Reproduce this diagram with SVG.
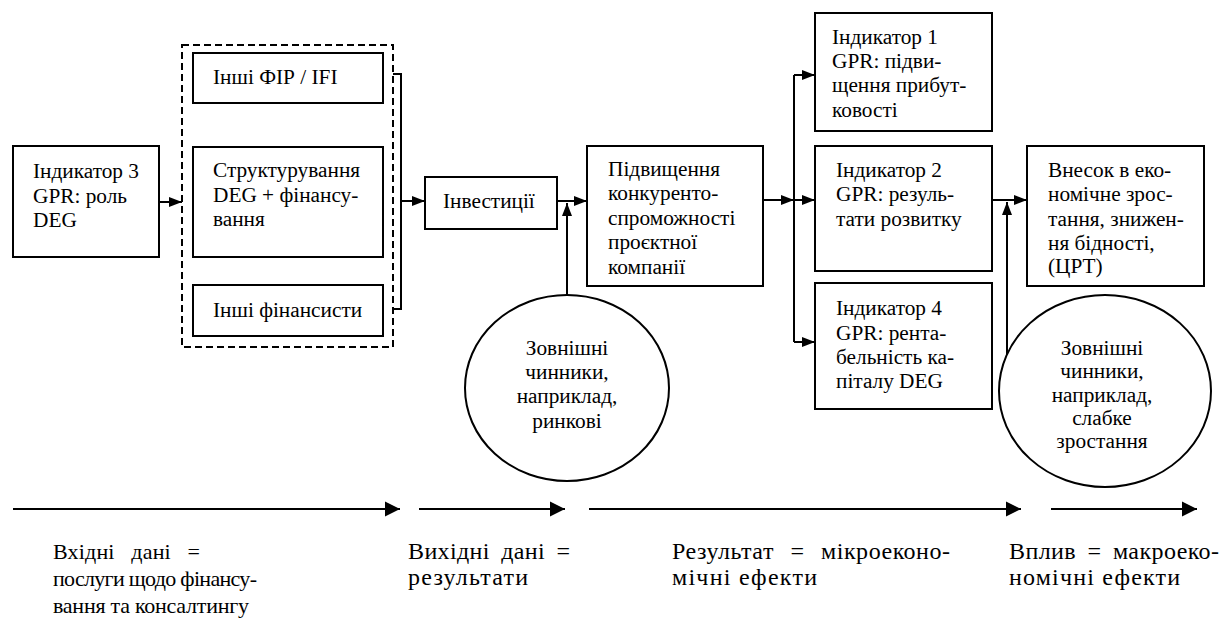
<svg xmlns="http://www.w3.org/2000/svg" width="1231" height="620" viewBox="0 0 1231 620">
<style>
.box{fill:#fff;stroke:#000;stroke-width:2}
.dash{fill:none;stroke:#000;stroke-width:2;stroke-dasharray:7 4}
.ln{fill:none;stroke:#000;stroke-width:2}
text{font-family:'Liberation Serif','Times New Roman','DejaVu Serif',serif;fill:#000}
.t{font-size:21.3px}
.c{text-anchor:middle}
.b{font-size:22px}
.bl{font-size:24px}
</style>
<defs>
<marker id="ah" markerUnits="userSpaceOnUse" markerWidth="14" markerHeight="11" refX="13" refY="5.5" orient="auto">
<path d="M0,0.5 L13,5.5 L0,10.5 z" fill="#000"/>
</marker>
<marker id="ahb" markerUnits="userSpaceOnUse" markerWidth="16" markerHeight="16" refX="15" refY="8" orient="auto">
<path d="M0,0.5 L15,8 L0,15.5 z" fill="#000"/>
</marker>
</defs>
<rect width="1231" height="620" fill="#fff"/>

<g id="connectors">
<path class="ln" d="M159,202 H182" marker-end="url(#ah)"/>
<path class="ln" d="M393,74 H401 V309 H393"/>
<path class="ln" d="M401,201 H425" marker-end="url(#ah)"/>
<path class="ln" d="M557,201 H587" marker-end="url(#ah)"/>
<path class="ln" d="M567,295 V203" marker-end="url(#ah)"/>
<path class="ln" d="M763,200 H794" marker-end="url(#ah)"/>
<path class="ln" d="M794,75 V342"/>
<path class="ln" d="M794,75 H815" marker-end="url(#ah)"/>
<path class="ln" d="M794,200 H815" marker-end="url(#ah)"/>
<path class="ln" d="M794,342 H815" marker-end="url(#ah)"/>
<path class="ln" d="M992,200 H1027" marker-end="url(#ah)"/>
<path class="ln" d="M1007,355 V202" marker-end="url(#ah)"/>
<path class="ln" d="M13,509 H400" marker-end="url(#ahb)"/>
<path class="ln" d="M419,509 H565" marker-end="url(#ahb)"/>
<path class="ln" d="M589,509 H1021" marker-end="url(#ahb)"/>
<path class="ln" d="M1051,509 H1197" marker-end="url(#ahb)"/>
</g>

<g id="indicator3">
<rect class="box" x="13" y="146" width="146" height="111"/>
<text class="t" x="33" y="178">Індикатор 3</text>
<text class="t" x="33" y="203">GPR: роль</text>
<text class="t" x="33" y="227">DEG</text>
</g>

<g id="financing-group">
<rect class="dash" x="182" y="45" width="211" height="302"/>
</g>

<g id="other-ifi">
<rect class="box" x="193" y="53" width="190" height="50"/>
<text class="t" x="213" y="84">Інші ФІР / IFI</text>
</g>

<g id="structuring">
<rect class="box" x="193" y="147" width="190" height="110"/>
<text class="t" x="213" y="177">Структурування</text>
<text class="t" x="213" y="202">DEG + фінансу-</text>
<text class="t" x="213" y="226">вання</text>
</g>

<g id="other-financiers">
<rect class="box" x="193" y="285" width="190" height="51"/>
<text class="t" x="213" y="317">Інші фінансисти</text>
</g>

<g id="investments">
<rect class="box" x="425" y="177" width="132" height="52"/>
<text class="t" x="443" y="208">Інвестиції</text>
</g>

<g id="competitiveness">
<rect class="box" x="587" y="146" width="176" height="140"/>
<text class="t" x="608" y="176">Підвищення</text>
<text class="t" x="608" y="200">конкуренто-</text>
<text class="t" x="608" y="225">спроможності</text>
<text class="t" x="608" y="249">проєктної</text>
<text class="t" x="608" y="274">компанії</text>
</g>

<g id="external1">
<ellipse class="box" cx="567" cy="388" rx="102" ry="93"/>
<text class="t c" x="567" y="355">Зовнішні</text>
<text class="t c" x="567" y="379">чинники,</text>
<text class="t c" x="567" y="403">наприклад,</text>
<text class="t c" x="567" y="428">ринкові</text>
</g>

<g id="indicator1">
<rect class="box" x="815" y="13" width="177" height="118"/>
<text class="t" x="832" y="44">Індикатор 1</text>
<text class="t" x="832" y="68">GPR: підви-</text>
<text class="t" x="832" y="92">щення прибут-</text>
<text class="t" x="832" y="117">ковості</text>
</g>

<g id="indicator2">
<rect class="box" x="815" y="146" width="177" height="125"/>
<text class="t" x="836" y="177">Індикатор 2</text>
<text class="t" x="836" y="201">GPR: резуль-</text>
<text class="t" x="836" y="226">тати розвитку</text>
</g>

<g id="indicator4">
<rect class="box" x="815" y="283" width="177" height="126"/>
<text class="t" x="836" y="315">Індикатор 4</text>
<text class="t" x="836" y="340">GPR: рента-</text>
<text class="t" x="836" y="364">бельність ка-</text>
<text class="t" x="836" y="388">піталу DEG</text>
</g>

<g id="contribution">
<rect class="box" x="1027" y="146" width="177" height="140"/>
<text class="t" x="1048" y="177">Внесок в еко-</text>
<text class="t" x="1048" y="201">номічне зрос-</text>
<text class="t" x="1048" y="226">тання, знижен-</text>
<text class="t" x="1048" y="250">ня бідності,</text>
<text class="t" x="1048" y="273">(ЦРТ)</text>
</g>

<g id="external2">
<ellipse class="box" cx="1105" cy="391" rx="106" ry="96"/>
<text class="t c" x="1102" y="355">Зовнішні</text>
<text class="t c" x="1102" y="378">чинники,</text>
<text class="t c" x="1102" y="402">наприклад,</text>
<text class="t c" x="1102" y="425">слабке</text>
<text class="t c" x="1102" y="448">зростання</text>
</g>

<g id="stage-labels">
<text class="b" x="53" y="559" word-spacing="11" textLength="147" lengthAdjust="spacing">Вхідні дані =</text>
<text class="b" x="53" y="586" textLength="204" lengthAdjust="spacing">послуги щодо фінансу-</text>
<text class="b" x="53" y="613" textLength="196" lengthAdjust="spacing">вання та консалтингу</text>
<text class="bl" x="408" y="559" word-spacing="5" textLength="162" lengthAdjust="spacing">Вихідні дані =</text>
<text class="bl" x="408" y="585" textLength="120" lengthAdjust="spacing">результати</text>
<text class="bl" x="672" y="559" word-spacing="10" textLength="278" lengthAdjust="spacing">Результат = мікроеконо-</text>
<text class="bl" x="672" y="585" textLength="145" lengthAdjust="spacing">мічні ефекти</text>
<text class="bl" x="1009" y="559" word-spacing="5" textLength="210" lengthAdjust="spacing">Вплив = макроеко-</text>
<text class="bl" x="1009" y="585" textLength="171" lengthAdjust="spacing">номічні ефекти</text>
</g>
</svg>
